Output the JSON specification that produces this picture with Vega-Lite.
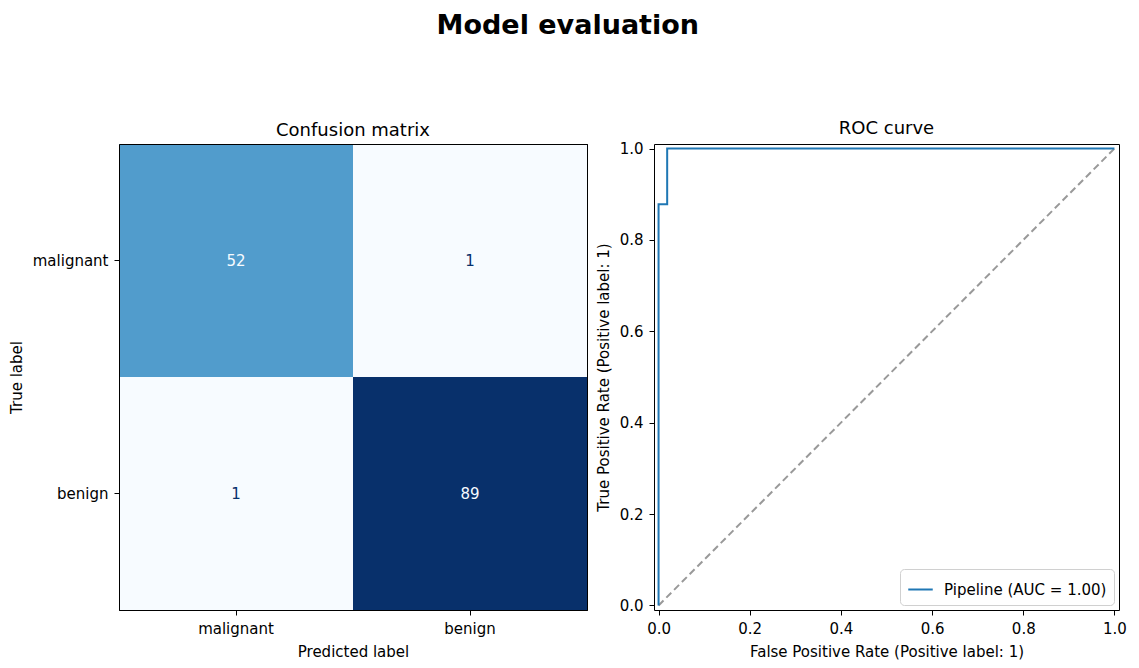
{
  "$schema": "https://vega.github.io/schema/vega-lite/v6.json",
  "background": "white",
  "padding": {"left": 8, "top": 12, "right": 10, "bottom": 10},
  "title": {
    "text": "Model evaluation",
    "fontSize": 27,
    "fontWeight": "bold",
    "font": "DejaVu Sans",
    "color": "black",
    "anchor": "middle",
    "offset": 79
  },
  "datasets": {
    "cm": [
      {"true_label": "malignant", "predicted": "malignant", "count": 52},
      {"true_label": "malignant", "predicted": "benign", "count": 1},
      {"true_label": "benign", "predicted": "malignant", "count": 1},
      {"true_label": "benign", "predicted": "benign", "count": 89}
    ],
    "roc": [
      {"i": 0, "fpr": 0.0, "tpr": 0.0, "series": "Pipeline (AUC = 1.00)"},
      {"i": 1, "fpr": 0.0, "tpr": 0.878, "series": "Pipeline (AUC = 1.00)"},
      {"i": 2, "fpr": 0.0189, "tpr": 0.878, "series": "Pipeline (AUC = 1.00)"},
      {"i": 3, "fpr": 0.0189, "tpr": 1.0, "series": "Pipeline (AUC = 1.00)"},
      {"i": 4, "fpr": 1.0, "tpr": 1.0, "series": "Pipeline (AUC = 1.00)"}
    ],
    "chance": [
      {"i": 0, "fpr": 0.0, "tpr": 0.0},
      {"i": 1, "fpr": 1.0, "tpr": 1.0}
    ]
  },
  "spacing": 7,
  "hconcat": [
    {
      "width": 468,
      "height": 466,
      "title": {"text": "Confusion matrix"},
      "data": {"name": "cm"},
      "layer": [
        {
          "mark": {"type": "rect"},
          "encoding": {
            "x": {
              "field": "predicted",
              "type": "nominal",
              "sort": ["malignant", "benign"],
              "scale": {"paddingInner": 0, "paddingOuter": 0},
              "axis": {"title": "Predicted label", "labelAngle": 0, "domain": true, "zindex": 1}
            },
            "y": {
              "field": "true_label",
              "type": "nominal",
              "sort": ["malignant", "benign"],
              "scale": {"paddingInner": 0, "paddingOuter": 0},
              "axis": {"title": "True label", "domain": true, "zindex": 1}
            },
            "color": {
              "field": "count",
              "type": "quantitative",
              "scale": {"domain": [1, 52, 89], "range": ["#f7fbff", "#519ccc", "#08306b"]},
              "legend": null
            }
          }
        },
        {
          "mark": {"type": "text", "fontSize": 15, "font": "DejaVu Sans"},
          "encoding": {
            "x": {
              "field": "predicted",
              "type": "nominal",
              "sort": ["malignant", "benign"],
              "axis": {"orient": "top", "labels": false, "ticks": false, "title": null, "domain": true, "zindex": 1}
            },
            "y": {
              "field": "true_label",
              "type": "nominal",
              "sort": ["malignant", "benign"],
              "axis": {"orient": "right", "labels": false, "ticks": false, "title": null, "domain": true, "zindex": 1}
            },
            "text": {"field": "count", "type": "quantitative"},
            "color": {
              "condition": {"test": "datum.count > 40", "value": "#f7fbff"},
              "value": "#08306b"
            }
          }
        }
      ],
      "resolve": {"axis": {"x": "independent", "y": "independent"}}
    },
    {
      "width": 465,
      "height": 466,
      "title": {"text": "ROC curve"},
      "layer": [
        {
          "data": {"name": "chance"},
          "mark": {"type": "line", "color": "#999999", "strokeWidth": 2, "strokeDash": [7, 4]},
          "encoding": {
            "x": {"field": "fpr", "type": "quantitative"},
            "y": {"field": "tpr", "type": "quantitative"},
            "order": {"field": "i"}
          }
        },
        {
          "data": {"name": "roc"},
          "mark": {"type": "line", "strokeWidth": 2},
          "encoding": {
            "x": {
              "field": "fpr",
              "type": "quantitative",
              "scale": {"domain": [-0.01, 1.01], "nice": false, "zero": false},
              "axis": {"title": "False Positive Rate (Positive label: 1)", "values": [0, 0.2, 0.4, 0.6, 0.8, 1.0], "format": ".1f"}
            },
            "y": {
              "field": "tpr",
              "type": "quantitative",
              "scale": {"domain": [-0.01, 1.01], "nice": false, "zero": false},
              "axis": {"title": "True Positive Rate (Positive label: 1)", "values": [0, 0.2, 0.4, 0.6, 0.8, 1.0], "format": ".1f"}
            },
            "order": {"field": "i"},
            "color": {
              "field": "series",
              "type": "nominal",
              "scale": {"range": ["#1f77b4"]},
              "legend": {
                "title": null,
                "orient": "bottom-right",
                "symbolType": "stroke",
                "symbolSize": 600,
                "symbolStrokeWidth": 2,
                "labelFontSize": 15,
                "labelFont": "DejaVu Sans",
                "labelColor": "black",
                "labelLimit": 400,
                "labelOffset": 10,
                "strokeColor": "#d0d0d0",
                "fillColor": "white",
                "cornerRadius": 4,
                "padding": 7,
                "offset": 5
              }
            }
          }
        }
      ]
    }
  ],
  "config": {
    "font": "DejaVu Sans",
    "view": {"stroke": "black", "strokeWidth": 1},
    "title": {"fontSize": 18, "fontWeight": "normal", "color": "black", "offset": 4},
    "axis": {
      "grid": false,
      "domain": false,
      "domainColor": "black",
      "domainWidth": 1,
      "ticks": true,
      "tickColor": "black",
      "tickSize": 5,
      "tickWidth": 1,
      "labelColor": "black",
      "labelFontSize": 15,
      "labelPadding": 6,
      "labelFont": "DejaVu Sans",
      "titleFont": "DejaVu Sans",
      "titleFontSize": 15,
      "titleFontWeight": "normal",
      "titleColor": "black",
      "titlePadding": 8
    }
  }
}
